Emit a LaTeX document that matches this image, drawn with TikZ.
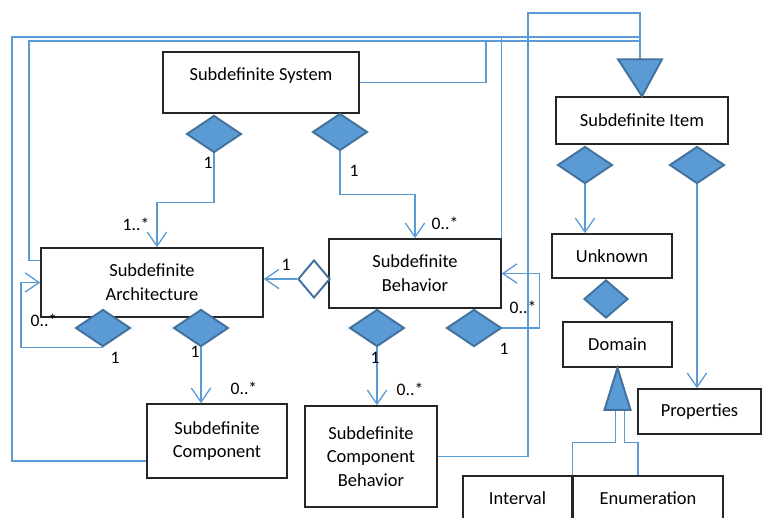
\documentclass[tikz,border=0pt]{standalone}
\usepackage{fontspec}
\setmainfont{Carlito}
\usetikzlibrary{positioning,calc,shapes.geometric,arrows.meta}
\definecolor{linkblue}{HTML}{5B9BD5}
\definecolor{diablue}{HTML}{41719C}
\begin{document}
\begin{tikzpicture}[x=0.02cm,y=-0.02cm,font=\fontsize{10.5}{13.5}\selectfont,
  box/.style={draw=black!85,line width=0.9pt,fill=white,align=center,inner sep=2pt},
  dia/.style={diamond,draw=diablue,line width=1.1pt,fill=linkblue,inner sep=0pt,minimum width=1.1cm,minimum height=0.74cm},
  hdia/.style={dia,fill=white,minimum width=0.64cm,minimum height=0.76cm},
  link/.style={draw=linkblue,line width=0.75pt},
  arr/.style={link,-{Straight Barb[length=8pt,width=11pt]}},
  mult/.style={inner sep=0pt,font=\fontsize{10}{12}\selectfont},
  gen/.style={draw=diablue,line width=1.1pt,fill=linkblue}]
\useasboundingbox (0,0) rectangle (762,518);
%\draw[help lines,xstep=50,ystep=50] (0,0) grid (762,518);
\node[box,minimum width=3.92cm,minimum height=1.22cm,text height=7pt,text depth=9pt] (Sys) at (261,82.5) {Subdefinite System};
\node[box,minimum width=3.44cm,minimum height=0.94cm] (Item) at (642,120.5) {Subdefinite Item};
\node[box,minimum width=4.44cm,minimum height=1.38cm] (Arch) at (152,282.5) {Subdefinite\\Architecture};
\node[box,minimum width=3.44cm,minimum height=1.38cm] (Beh) at (415,273.5) {Subdefinite\\Behavior};
\node[box,minimum width=2.4cm,minimum height=0.88cm] (Unk) at (612,256) {Unknown};
\node[box,minimum width=2.18cm,minimum height=0.9cm] (Dom) at (617.5,344.5) {Domain};
\node[box,minimum width=2.46cm,minimum height=0.9cm] (Prop) at (699.5,411.5) {Properties};
\node[box,minimum width=2.18cm,minimum height=0.88cm] (Int) at (517.5,498) {Interval};
\node[box,minimum width=3.0cm,minimum height=0.88cm] (Enum) at (648,498) {Enumeration};
\node[box,minimum width=2.8cm,minimum height=1.48cm] (Comp) at (217,441) {Subdefinite\\Component};
\node[box,minimum width=2.64cm,minimum height=2.02cm] (CB) at (371,456.5) {Subdefinite\\Component\\Behavior};
% generalization to Subdefinite Item
\coordinate (G) at ($(Item.north)+(-2,-37)$);
\draw[link] ($(Comp.west)+(0,20)$) -| (12,37) -| (G);
\draw[link] ($(Arch.west)+(0,-22)$) -| (29,41) -| (G);
\draw[link] (Sys.east) -| (486,41) -| (G);
\draw[link] (Beh.north east) -- ++(0,-202) -| (G);
\draw[link] (CB.east) -| (528,13) -| (G);
\draw[gen] (Item.north) -- ++(-24,-37) -- ++(44,0) -- cycle;
% generalization to Domain
\draw[link] ($(Dom.south)+(-2,42)$) -- ++(0,33) -| (Int.north east);
\draw[link] ($(Dom.south)+(7,42)$) -- ++(0,33) -| ($(Enum.north)+(-10,0)$);
\draw[gen] (Dom.south) -- ++(-13,42) -- ++(26,0) -- cycle;
% aggregations
\foreach \n/\x/\y in {Dsa/214/134,Dsb/340/132,Daa/103/328,Dac/201/328,Dba/377/328,Dbb/474/328,Dia/585/165,Dib/697/165}
\node[dia] (\n) at (\x,\y) {};
\node[dia,minimum width=0.88cm,minimum height=0.76cm] (Dud) at (606,299) {};
\node[hdia] (Dab) at (314,279) {};
\draw[arr] (Dsa.south) -- ++(0,49) -| ($(Arch.north)+(5,0)$);
\draw[arr] (Dsb.south) -- ++(0,43) -| (Beh.north);
\draw[arr] (Dab.west) -- (Dab.west -| Arch.east);
\draw[arr] (Daa.south) -- ++(-82,0) |- (Arch.west);
\draw[arr] (Dac.south) -- (Dac.south |- Comp.north);
\draw[arr] (Dba.south) -- (Dba.south |- CB.north);
\draw[arr] (Dbb.east) -- ++(37,0) |- (Beh.east);
\draw[arr] (Dia.south) -- (Dia.south |- Unk.north);
\draw[arr] (Dib.south) -- (Dib.south |- Prop.north);
% multiplicities
\foreach \n/\x/\y/\t in {m1/208/163/1,m2/136/224/1..*,m3/354/171/1,m4/445/223/0..*,m5/286/265/1,m6/44/320/0..*,m7/115/358/1,m8/195/352/1,m9/244/388/0..*,m10/375/358/1,m11/410/389/0..*,m12/523/307/0..*,m13/504/349/1}
\node[mult] (\n) at (\x,\y) {\t};
\end{tikzpicture}
\end{document}
